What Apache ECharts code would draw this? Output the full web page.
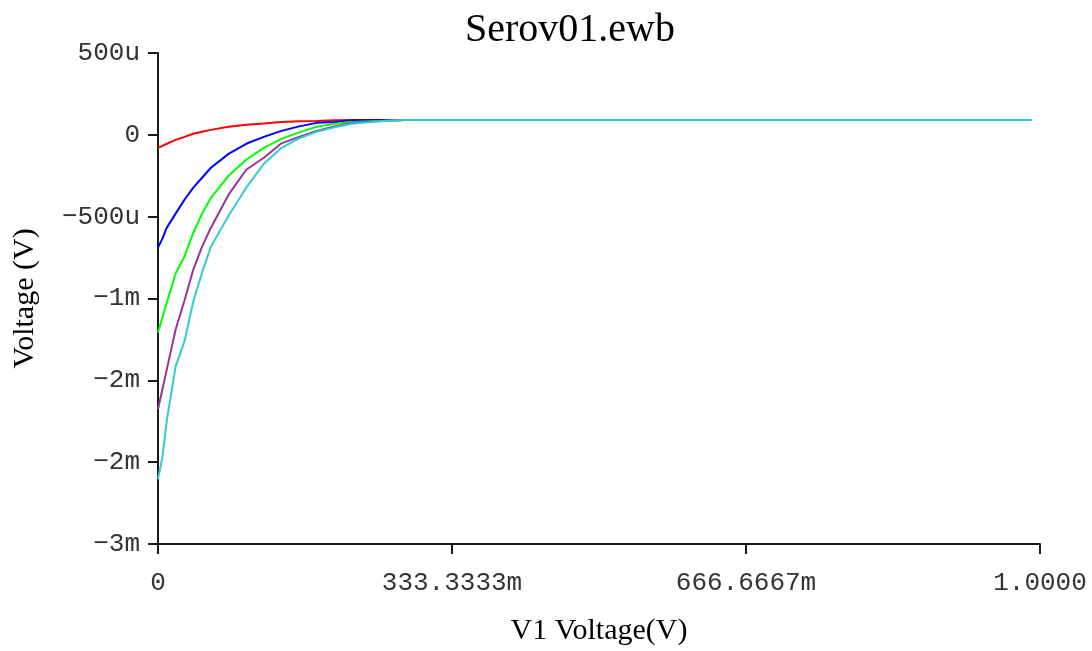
<!DOCTYPE html>
<html>
<head>
<meta charset="utf-8">
<title>Serov01.ewb</title>
<script src="https://cdn.jsdelivr.net/npm/echarts@6/dist/echarts.min.js"></script>
<style>
    html, body { margin: 0; padding: 0; background: #fff; }
    #chart { width: 1092px; height: 651px; }
</style>
</head>
<body>
<!--DC sweep chart-->
<div id="chart"></div>
<script>
    // V1 sweep points (V)
    var sweepV = [0, 0.005, 0.01, 0.02, 0.03, 0.04, 0.05, 0.06, 0.08, 0.10, 0.12, 0.14, 0.16, 0.18, 0.20, 0.22, 0.25, 0.28, 0.99];
    // output voltage per trace, in uV
    var redTrace    = [-176, -162, -147, -119, -98, -76, -62, -48, -26, -12, -2, 9, 13, 16, 20, 23, 23, 23, 23];
    var blueTrace   = [-887, -823, -745, -645, -546, -460, -389, -318, -219, -147, -98, -55, -23, 2, 9, 20, 23, 23, 23];
    var greenTrace  = [-1492, -1385, -1279, -1072, -951, -781, -645, -532, -375, -261, -176, -112, -66, -26, -5, 9, 16, 23, 23];
    var purpleTrace = [-2040, -1897, -1755, -1471, -1264, -1044, -880, -745, -510, -332, -247, -144, -98, -55, -23, 2, 13, 23, 23];
    var cyanTrace   = [-2538, -2381, -2118, -1734, -1556, -1271, -1065, -880, -660, -460, -290, -176, -108, -62, -30, -5, 13, 23, 23];

    var traceNames = ['red', 'blue', 'green', 'purple', 'cyan'];
    var traceColors = ['#ff0000', '#0000ff', '#00ff00', '#9932a0', '#33cccc'];

    // axis ticks, the labels are the ones the simulator printed
    var xTickLabels = ['0', '333.3333m', '666.6667m', '1.0000'];
    var yTickLabels = ['\u22123m', '\u22122m', '\u22122m', '\u22121m', '\u2212500u', '0', '500u'];
    var yMin = -3000, yMax = 500;
    var yStep = (yMax - yMin) / 6;

    function toPairs(vals) {
        return vals.map(function (v, i) { return [sweepV[i], v]; });
    }

    var traces = [redTrace, blueTrace, greenTrace, purpleTrace, cyanTrace];
    var series = traces.map(function (t, i) {
        return {
            name: traceNames[i],
            type: 'line',
            data: toPairs(t),
            showSymbol: false,
            smooth: false,
            lineStyle: { color: traceColors[i], width: 2 },
            itemStyle: { color: traceColors[i] },
            animation: false
        };
    });

    var axisColor = '#1a1a1a';
    var myChart = echarts.init(document.getElementById('chart'));
    myChart.setOption({
        backgroundColor: '#ffffff',
        title: {
            text: 'Serov01.ewb',
            left: 460,
            top: 5,
            textStyle: {
                fontFamily: 'Liberation Serif',
                fontWeight: 'normal',
                fontSize: 40,
                color: '#000'
            }
        },
        grid: { left: 158, right: 52, top: 53, bottom: 106 },
        xAxis: {
            type: 'value',
            min: 0,
            max: 1,
            interval: 1 / 3,
            name: 'V1 Voltage(V)',
            nameLocation: 'middle',
            nameGap: 72,
            nameTextStyle: { fontFamily: 'Liberation Serif', fontSize: 30, color: '#000' },
            axisLine: { onZero: false, lineStyle: { color: axisColor, width: 2 } },
            axisTick: { length: 10, lineStyle: { color: axisColor, width: 2 } },
            splitLine: { show: false },
            axisLabel: {
                margin: 26,
                fontFamily: 'Liberation Mono',
                fontSize: 26,
                color: '#333',
                formatter: function (val) {
                    return xTickLabels[Math.round(val * 3)];
                }
            }
        },
        yAxis: {
            type: 'value',
            min: yMin,
            max: yMax,
            interval: yStep,
            name: 'Voltage (V)',
            nameLocation: 'middle',
            nameGap: 118,
            nameTextStyle: { fontFamily: 'Liberation Serif', fontSize: 30, color: '#000' },
            axisLine: { show: true, onZero: false, lineStyle: { color: axisColor, width: 2 } },
            axisTick: { show: true, length: 10, lineStyle: { color: axisColor, width: 2 } },
            splitLine: { show: false },
            axisLabel: {
                margin: 18,
                fontFamily: 'Liberation Mono',
                fontSize: 26,
                color: '#333',
                formatter: function (val) {
                    return yTickLabels[Math.round((val - yMin) / yStep)];
                }
            }
        },
        series: series
    });
</script>
</body>
</html>
